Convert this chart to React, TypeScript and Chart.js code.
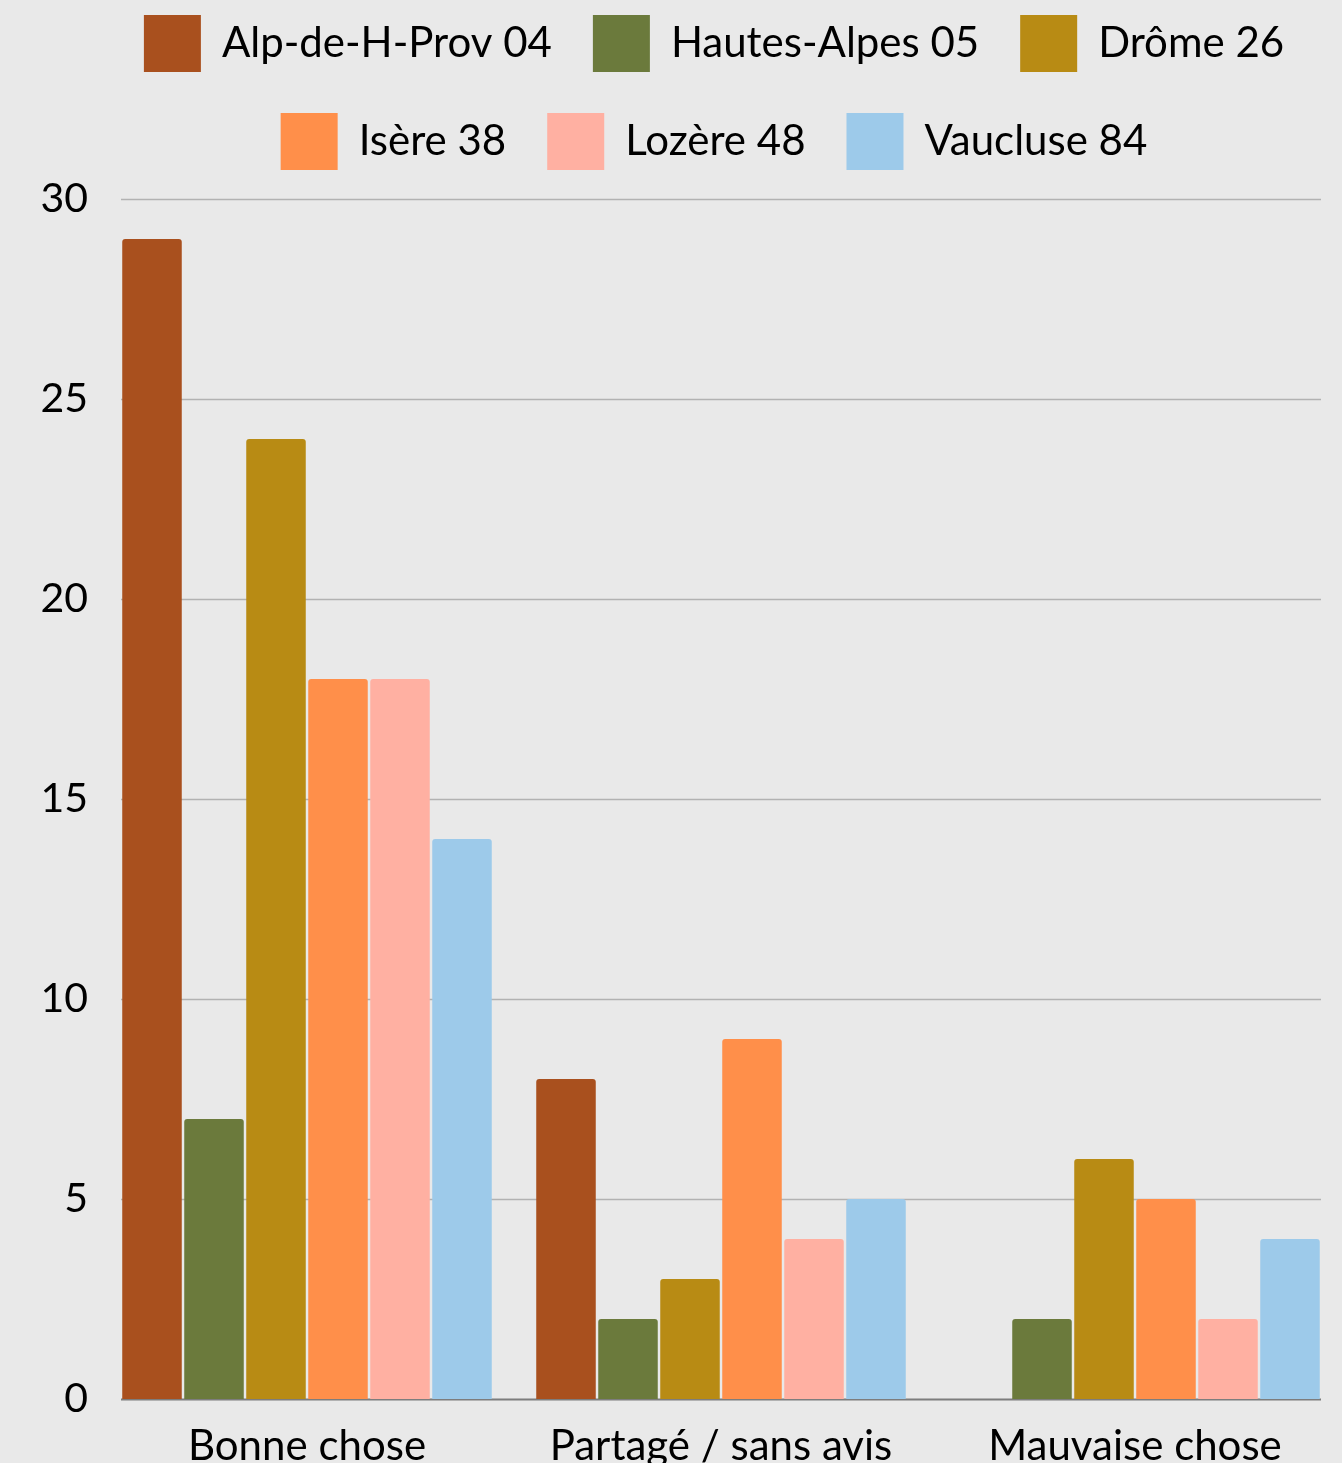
import React, { useEffect, useRef } from 'react';
import { Chart, registerables } from 'chart.js';

Chart.register(...registerables);

const categories = ['Bonne chose', 'Partagé / sans avis', 'Mauvaise chose'];
const seriesNames = ['Alp-de-H-Prov 04', 'Hautes-Alpes 05', 'Drôme 26', 'Isère 38', 'Lozère 48', 'Vaucluse 84'];
const alpDeHProv04 = [29, 8, 0];
const hautesAlpes05 = [7, 2, 2];
const drome26 = [24, 3, 6];
const isere38 = [18, 9, 5];
const lozere48 = [18, 4, 2];
const vaucluse84 = [14, 5, 4];
const seriesValues = [alpDeHProv04, hautesAlpes05, drome26, isere38, lozere48, vaucluse84];
const seriesColors = ['#A9501E', '#6B7A3C', '#B88B14', '#FF8F4A', '#FFB0A2', '#9DCAEA'];
const yMin = 0;
const yMax = 30;
const yStep = 5;

const CATEGORY_PCT = 372 / 414;
const FONT = 'Lato';
const PAD_LEFT = 38;
const Y_WIDTH = 62;
const LEGEND_SHIFT = 48;

const bgGridPlugin = {
  id: 'bgGrid',
  afterLayout(chart: any) {
    const lg = chart.legend;
    if (lg) {
      lg.left += LEGEND_SHIFT;
      lg.width -= LEGEND_SHIFT;
    }
  },
  beforeDraw(chart: any) {
    const { ctx, width, height } = chart;
    ctx.save();
    ctx.fillStyle = '#e9e9e9';
    ctx.fillRect(0, 0, width, height);
    ctx.restore();
  },
  beforeDatasetsDraw(chart: any) {
    const { ctx, chartArea, scales } = chart;
    const y = scales.y;
    const cw = (chartArea.right - chartArea.left) / categories.length;
    const inset = (cw * (1 - CATEGORY_PCT)) / 2;
    const x0 = chartArea.left + inset;
    const x1 = chartArea.right - inset;
    ctx.save();
    y.ticks.forEach((t: any) => {
      const py = Math.round(y.getPixelForValue(t.value)) + 0.5;
      ctx.strokeStyle = t.value === 0 ? '#7d7d7d' : '#b2b2b2';
      ctx.lineWidth = t.value === 0 ? 2 : 1.5;
      ctx.beginPath();
      ctx.moveTo(x0, py);
      ctx.lineTo(x1, py);
      ctx.stroke();
    });
    ctx.restore();
  },
};

export default function App() {
  const ref = useRef<HTMLCanvasElement>(null);

  useEffect(() => {
    document.body.style.margin = '0';
    document.body.style.background = '#e9e9e9';
    const canvas = ref.current;
    if (!canvas) return;
    const chart = new Chart(canvas, {
      type: 'bar',
      data: {
        labels: categories,
        datasets: seriesNames.map((name, i) => ({
          label: name,
          data: seriesValues[i],
          backgroundColor: seriesColors[i],
          borderWidth: 0,
          borderRadius: 3,
          categoryPercentage: CATEGORY_PCT,
          barPercentage: 0.96,
        })),
      },
      options: {
        animation: false,
        responsive: false,
        devicePixelRatio: 1,
        layout: { padding: { top: -26, left: PAD_LEFT, right: 0, bottom: 0 } },
        font: { family: FONT },
        plugins: {
          tooltip: { enabled: false },
          legend: {
            position: 'top',
            align: 'center',
            labels: {
              boxWidth: 57,
              boxHeight: 57,
              padding: 41,
              color: '#000000',
              font: { family: FONT, size: 42 },
            },
          },
          title: {
            display: true,
            text: ' ',
            weight: 1,
            position: 'top',
            font: { size: 1, lineHeight: 1 },
            padding: { top: 0, bottom: 18 },
          },
        },
        scales: {
          x: {
            grid: { display: false },
            border: { display: false },
            ticks: {
              color: '#000000',
              font: { family: FONT, size: 42 },
              padding: 14,
              maxRotation: 0,
            },
            afterFit: (s: any) => {
              s.height = 64;
            },
          },
          y: {
            min: yMin,
            max: yMax,
            grid: { display: false, drawTicks: false },
            border: { display: false },
            ticks: {
              stepSize: yStep,
              color: '#000000',
              font: { family: FONT, size: 41 },
              padding: 12,
            },
            afterFit: (s: any) => {
              s.width = Y_WIDTH;
            },
          },
        },
      },
      plugins: [bgGridPlugin],
    } as any);
    return () => chart.destroy();
  }, []);

  return (
    <div style={{ width: 1342, height: 1463, background: '#e9e9e9' }}>
      <canvas ref={ref} width={1342} height={1463} style={{ display: 'block' }} />
    </div>
  );
}
